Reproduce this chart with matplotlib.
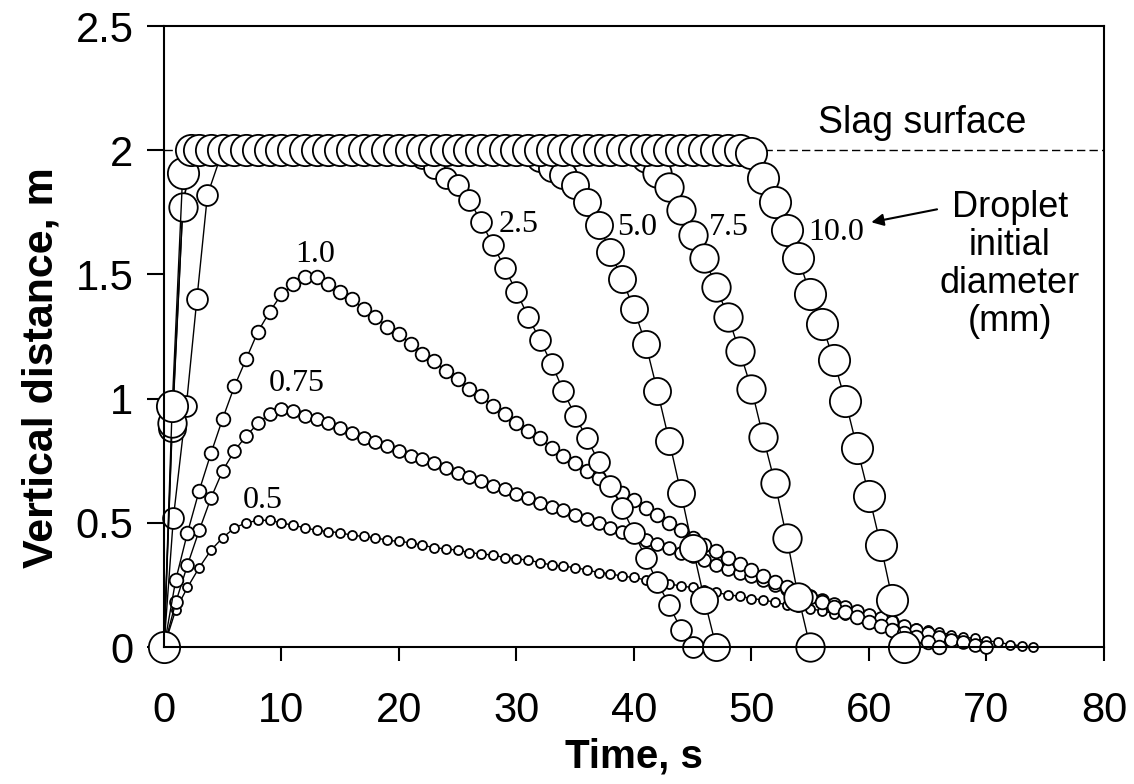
import numpy as np
import matplotlib
matplotlib.use("Agg")
import matplotlib.pyplot as plt

# -----------------------------
# data (time in s, height in m)
# -----------------------------
diameters = ["0.5", "0.75", "1.0", "2.5", "5.0", "7.5", "10.0"]

t_05 = list(range(0, 75))
y_05 = [0.0, 0.15, 0.24, 0.32, 0.39, 0.44, 0.48, 0.50, 0.51, 0.51,
        0.50, 0.49, 0.48, 0.47, 0.465, 0.46, 0.45, 0.445, 0.44, 0.43,
        0.425, 0.42, 0.41, 0.40, 0.395, 0.39, 0.38, 0.375, 0.37, 0.36,
        0.355, 0.35, 0.34, 0.33, 0.325, 0.32, 0.31, 0.30, 0.295, 0.285,
        0.28, 0.27, 0.26, 0.255, 0.245, 0.24, 0.23, 0.22, 0.21, 0.205,
        0.195, 0.19, 0.18, 0.17, 0.16, 0.155, 0.145, 0.135, 0.13, 0.12,
        0.11, 0.10, 0.095, 0.085, 0.075, 0.07, 0.06, 0.05, 0.04, 0.035,
        0.025, 0.02, 0.01, 0.005, 0.0]

t_075 = list(range(0, 71))
y_075 = [0.0, 0.18, 0.33, 0.47, 0.60, 0.71, 0.79, 0.85, 0.90, 0.94,
         0.96, 0.95, 0.93, 0.92, 0.90, 0.88, 0.86, 0.84, 0.825, 0.81,
         0.79, 0.77, 0.755, 0.74, 0.72, 0.70, 0.685, 0.67, 0.65, 0.635,
         0.615, 0.60, 0.58, 0.565, 0.55, 0.53, 0.515, 0.50, 0.48, 0.465,
         0.45, 0.43, 0.415, 0.40, 0.38, 0.365, 0.35, 0.33, 0.315, 0.30,
         0.285, 0.27, 0.25, 0.235, 0.22, 0.205, 0.19, 0.175, 0.16, 0.145,
         0.13, 0.115, 0.10, 0.085, 0.07, 0.055, 0.04, 0.03, 0.02, 0.01,
         0.0]

t_10 = list(range(0, 67))
y_10 = [0.0, 0.27, 0.46, 0.63, 0.78, 0.92, 1.05, 1.16, 1.27, 1.35,
        1.42, 1.46, 1.49, 1.49, 1.46, 1.43, 1.40, 1.36, 1.33, 1.29,
        1.26, 1.22, 1.18, 1.15, 1.11, 1.08, 1.04, 1.01, 0.97, 0.94,
        0.90, 0.87, 0.84, 0.80, 0.77, 0.74, 0.71, 0.68, 0.65, 0.62,
        0.59, 0.56, 0.53, 0.50, 0.47, 0.44, 0.41, 0.385, 0.36, 0.335,
        0.31, 0.285, 0.26, 0.24, 0.22, 0.20, 0.18, 0.16, 0.14, 0.12,
        0.10, 0.085, 0.07, 0.055, 0.04, 0.02, 0.0]

t_25 = [0, 0.8, 1.9, 2.8, 3.7] + list(range(5, 46))
y_25 = [0.0, 0.52, 0.97, 1.40, 1.82,
        2.0, 2.0, 2.0, 2.0, 2.0, 2.0, 2.0, 2.0, 2.0, 2.0,   # 5-14
        2.0, 2.0, 2.0, 2.0, 2.0, 2.0, 2.0,                   # 15-21
        1.97, 1.93, 1.89, 1.86, 1.80, 1.71, 1.62, 1.525, 1.43, 1.33,
        1.235, 1.14, 1.03, 0.93, 0.84, 0.745, 0.65, 0.56, 0.46, 0.36,
        0.26, 0.17, 0.07, 0.0]

t_50 = [0, 0.7, 1.6, 2.4] + list(range(3, 48))
y_50 = [0.0, 0.88, 1.77, 2.0,
        2.0, 2.0, 2.0, 2.0, 2.0, 2.0, 2.0, 2.0, 2.0, 2.0,   # 3-12
        2.0, 2.0, 2.0, 2.0, 2.0, 2.0, 2.0, 2.0, 2.0, 2.0,   # 13-22
        2.0, 2.0, 2.0, 2.0, 2.0, 2.0, 2.0, 2.0, 2.0,        # 23-31
        1.97, 1.93, 1.90, 1.86, 1.79, 1.70, 1.59, 1.48, 1.36, 1.22,
        1.03, 0.83, 0.62, 0.40, 0.19, 0.0]

t_75 = [0, 0.7, 1.6, 2.4] + list(range(3, 56))
y_75 = [0.0, 0.90, 1.77, 2.0,
        2.0, 2.0, 2.0, 2.0, 2.0, 2.0, 2.0, 2.0, 2.0, 2.0,   # 3-12
        2.0, 2.0, 2.0, 2.0, 2.0, 2.0, 2.0, 2.0, 2.0, 2.0,   # 13-22
        2.0, 2.0, 2.0, 2.0, 2.0, 2.0, 2.0, 2.0, 2.0, 2.0,   # 23-32
        2.0, 2.0, 2.0, 2.0, 2.0, 2.0, 2.0, 2.0,             # 33-40
        1.97, 1.91, 1.85, 1.76, 1.66, 1.565, 1.45, 1.33, 1.19, 1.04,
        0.845, 0.66, 0.44, 0.20, 0.0]

t_100 = [0, 0.7, 1.6, 2.3] + list(range(3, 64))
y_100 = [0.0, 0.97, 1.91, 2.0,
         2.0, 2.0, 2.0, 2.0, 2.0, 2.0, 2.0, 2.0, 2.0, 2.0,   # 3-12
         2.0, 2.0, 2.0, 2.0, 2.0, 2.0, 2.0, 2.0, 2.0, 2.0,   # 13-22
         2.0, 2.0, 2.0, 2.0, 2.0, 2.0, 2.0, 2.0, 2.0, 2.0,   # 23-32
         2.0, 2.0, 2.0, 2.0, 2.0, 2.0, 2.0, 2.0, 2.0, 2.0,   # 33-42
         2.0, 2.0, 2.0, 2.0, 2.0, 2.0, 2.0,                  # 43-49
         1.99, 1.89, 1.79, 1.68, 1.565, 1.42, 1.30, 1.155, 0.99, 0.80,
         0.61, 0.41, 0.19, 0.0]

series_t = [t_05, t_075, t_10, t_25, t_50, t_75, t_100]
series_y = [y_05, y_075, y_10, y_25, y_50, y_75, y_100]

# where the diameter labels sit (data coords)
label_x = [8.4, 11.3, 12.9, 30.2, 40.3, 48.1, 57.2]
label_y = [0.59, 1.06, 1.58, 1.70, 1.69, 1.69, 1.67]

x_ticks = [0, 10, 20, 30, 40, 50, 60, 70, 80]
y_ticks = [0, 0.5, 1, 1.5, 2, 2.5]
y_tick_labels = ["0", "0.5", "1", "1.5", "2", "2.5"]
slag_level = 2.0

# -----------------------------
# figure
# -----------------------------
sans = ["Liberation Sans", "DejaVu Sans"]
serif = ["Liberation Serif", "DejaVu Serif"]
marker_sizes = [6.5, 9.2, 9.8, 15.0, 19.5, 20.5, 22.5]

fig = plt.figure(figsize=(11.34, 7.84), dpi=100)
ax = fig.add_axes([0.1446, 0.1747, 0.8289, 0.7921])

# slag surface
ax.plot([0, 80], [slag_level, slag_level], color="k", lw=1.0,
        linestyle=(0, (6, 3)), zorder=1)

for t, y, ms in zip(series_t, series_y, marker_sizes):
    ax.plot(t, y, "-", color="k", lw=1.0, marker="o", ms=ms,
            mfc="white", mec="k", mew=1.3, zorder=2, clip_on=False)

for lab, lx, ly in zip(diameters, label_x, label_y):
    ax.text(lx, ly, lab, family=serif, fontsize=23, ha="center",
            va="center", zorder=5)

ax.text(64.5, 2.11, "Slag surface", family=sans, fontsize=27,
        ha="center", va="center")
ax.annotate("Droplet\ninitial\ndiameter\n(mm)", xy=(60.2, 1.71),
            xytext=(72.0, 1.54), family=sans, fontsize=26, ha="center",
            va="center", linespacing=1.1,
            arrowprops=dict(arrowstyle="-|>", color="k", lw=1.5,
                            shrinkA=0, shrinkB=0, mutation_scale=18,
                            relpos=(0.02, 0.88)))

ax.set_xlim(0, 80)
ax.set_ylim(0, 2.5)
ax.set_xticks(x_ticks)
ax.set_yticks(y_ticks)
ax.set_yticklabels(y_tick_labels)
ax.tick_params(axis="both", direction="out", width=1.5, labelsize=30)
ax.tick_params(axis="y", length=12, pad=10)
ax.tick_params(axis="x", length=10, pad=22)
for lbl in ax.get_xticklabels() + ax.get_yticklabels():
    lbl.set_family(sans)
for sp in ax.spines.values():
    sp.set_linewidth(1.5)

ax.set_xlabel("Time, s", family=sans, fontsize=29, fontweight="bold",
              labelpad=4)
ax.set_ylabel("Vertical distance, m", family=sans, fontsize=31,
              fontweight="bold", va="center")
ax.yaxis.set_label_coords(-0.13, 0.45)

fig.savefig("out.png", dpi=100)
